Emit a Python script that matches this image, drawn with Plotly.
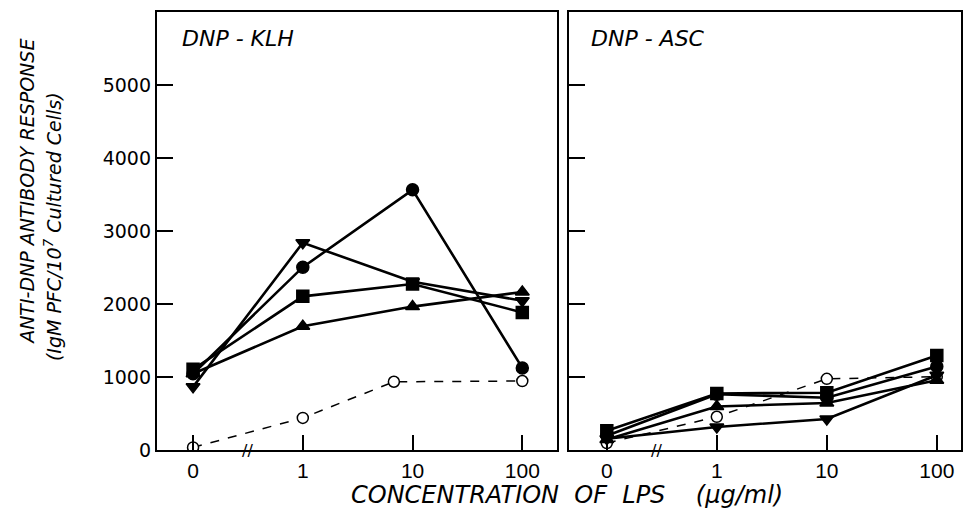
import plotly.graph_objects as go

# ---- data ----
x_labels = ["0", "1", "10", "100"]
x_pos = [0, 1, 2, 3]
klh_open_x = [0, 1, 1.83, 3]

klh_circle = [1050, 2510, 3570, 1130]
klh_tri_down = [870, 2845, 2310, 2050]
klh_square = [1110, 2110, 2280, 1890]
klh_tri_up = [1050, 1700, 1970, 2170]
klh_open = [40, 445, 940, 950]

asc_square = [270, 780, 790, 1300]
asc_circle = [200, 770, 720, 1150]
asc_tri_up = [150, 600, 650, 960]
asc_tri_down = [160, 320, 430, 1030]
asc_open = [100, 460, 980, 1010]

y_ticks = [0, 1000, 2000, 3000, 4000, 5000]

FONT = "DejaVu Sans"
fig = go.Figure()

def add_series(x, y, symbol, xa, ya, dashed=False, open_=False):
    fig.add_trace(go.Scatter(
        x=x, y=y, mode="lines+markers", xaxis=xa, yaxis=ya,
        line=dict(color="black", width=1.5 if dashed else 2.6,
                  dash="dash" if dashed else "solid"),
        marker=dict(symbol=symbol, size=11 if open_ else 12,
                    color="white" if open_ else "black",
                    line=dict(color="black", width=1.5)),
        showlegend=False, hoverinfo="skip"))

add_series(klh_open_x, klh_open, "circle", "x", "y", dashed=True, open_=True)
add_series(x_pos, klh_tri_up, "triangle-up", "x", "y")
add_series(x_pos, klh_square, "square", "x", "y")
add_series(x_pos, klh_tri_down, "triangle-down", "x", "y")
add_series(x_pos, klh_circle, "circle", "x", "y")

add_series(x_pos, asc_open, "circle", "x2", "y2", dashed=True, open_=True)
add_series(x_pos, asc_tri_down, "triangle-down", "x2", "y2")
add_series(x_pos, asc_tri_up, "triangle-up", "x2", "y2")
add_series(x_pos, asc_circle, "circle", "x2", "y2")
add_series(x_pos, asc_square, "square", "x2", "y2")

W, H = 963, 525
ybot = (H - 460) / H
ytop = (H - 12) / H

xcommon = dict(tickmode="array", tickvals=x_pos, ticktext=x_labels,
               ticks="inside", ticklen=15, tickwidth=1.5, tickcolor="black",
               showline=True, linecolor="black", linewidth=2, mirror=True,
               showgrid=False, zeroline=False,
               tickfont=dict(family="Liberation Sans", size=21, color="black"))
ycommon = dict(range=[0, 6010], tickmode="array", tickvals=y_ticks,
               ticks="inside", ticklen=16, tickwidth=1.5, tickcolor="black",
               showline=True, linecolor="black", linewidth=2, mirror=True,
               showgrid=False, zeroline=False,
               tickfont=dict(family=FONT, size=19, color="black"))

fig.update_layout(
    width=W, height=H, margin=dict(l=0, r=0, t=0, b=0),
    plot_bgcolor="white", paper_bgcolor="white",
    xaxis=dict(domain=[157 / W, 558 / W], range=[-0.33, 3.32], anchor="y", **xcommon),
    yaxis=dict(domain=[ybot, ytop], anchor="x", showticklabels=True, **ycommon),
    xaxis2=dict(domain=[570 / W, 962 / W], range=[-0.34, 3.22], anchor="y2", **xcommon),
    yaxis2=dict(domain=[ybot, ytop], anchor="x2", showticklabels=False, **ycommon),
)

ann = []
ann.append(dict(text="<i>DNP - KLH</i>", x=180 / W, y=(H - 39) / H, xref="paper", yref="paper",
                xanchor="left", yanchor="middle", showarrow=False,
                font=dict(family=FONT, size=22, color="black")))
ann.append(dict(text="<i>DNP - ASC</i>", x=590 / W, y=(H - 39) / H, xref="paper", yref="paper",
                xanchor="left", yanchor="middle", showarrow=False,
                font=dict(family=FONT, size=22, color="black")))
ann.append(dict(text="//", x=0.5, y=0, xref="x", yref="y", showarrow=False,
                xanchor="center", yanchor="middle",
                font=dict(family=FONT, size=16, color="black")))
ann.append(dict(text="//", x=0.45, y=0, xref="x2", yref="y2", showarrow=False,
                xanchor="center", yanchor="middle",
                font=dict(family=FONT, size=16, color="black")))
ann.append(dict(text="<i>ANTI-DNP ANTIBODY RESPONSE</i>", x=27 / W, y=(H - 196) / H,
                xref="paper", yref="paper", textangle=-90, showarrow=False,
                xanchor="center", yanchor="middle",
                font=dict(family=FONT, size=19, color="black")))
ann.append(dict(text="<i>(IgM PFC/10<sup>7</sup> Cultured Cells)</i>", x=53 / W, y=(H - 231) / H,
                xref="paper", yref="paper", textangle=-90, showarrow=False,
                xanchor="center", yanchor="middle",
                font=dict(family=FONT, size=19, color="black")))
ann.append(dict(text="<i>CONCENTRATION  OF  LPS    (μg/ml)</i>", x=568 / W, y=(H - 506) / H,
                xref="paper", yref="paper", showarrow=False,
                xanchor="center", yanchor="middle",
                font=dict(family=FONT, size=24, color="black")))
fig.update_layout(annotations=ann)

fig.write_html("out.html", config={"displayModeBar": False},
               post_script="document.body.style.margin='0px';")
